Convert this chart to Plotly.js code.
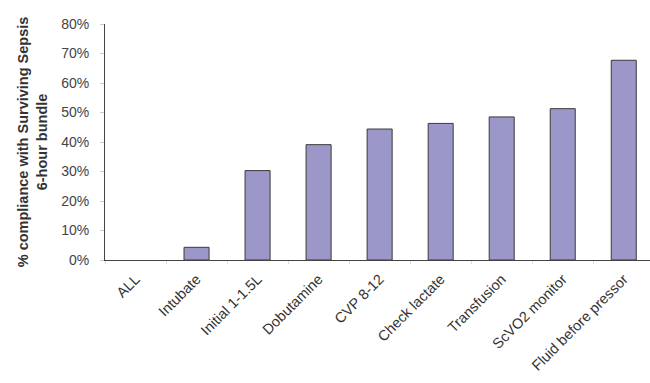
<!DOCTYPE html>
<html>
<head>
<meta charset="utf-8">
<script src="https://cdn.plot.ly/plotly-3.0.1.min.js"></script>
<style>html,body{margin:0;padding:0;background:#fff;}#chart{width:650px;height:383px;}</style>
</head>
<body>
<div id="chart"></div>
<script>
const categories = ["ALL", "Intubate", "Initial 1-1.5L", "Dobutamine", "CVP 8-12", "Check lactate", "Transfusion", "ScVO2 monitor", "Fluid before pressor"];
const compliance = [0, 0.043, 0.303, 0.391, 0.444, 0.463, 0.485, 0.513, 0.677];
const yTickVals = [0, 0.1, 0.2, 0.3, 0.4, 0.5, 0.6, 0.7, 0.8];
const yTickText = ["0%", "10%", "20%", "30%", "40%", "50%", "60%", "70%", "80%"];

const trace = {
  type: "bar",
  x: categories,
  y: compliance,
  marker: {
    color: "rgb(155,151,200)",
    line: {color: "#3a3a3a", width: compliance.map(v => v > 0 ? 1 : 0)}
  },
  hoverinfo: "x+y"
};

const layout = {
  width: 650, height: 383,
  margin: {l: 105, r: 0, t: 24, b: 123},
  paper_bgcolor: "#fff", plot_bgcolor: "#fff",
  showlegend: false,
  bargap: 0.59,
  font: {family: "Liberation Sans, Arial, sans-serif", size: 14, color: "#333"},
  xaxis: {
    type: "category",
    range: [-0.5, 8.43],
    tickangle: -45,
    showline: true, linecolor: "#444", linewidth: 1,
    ticks: "outside", tickson: "boundaries", ticklen: 3, tickcolor: "#ddd",
    ticklabelstandoff: 4,
    showgrid: false, zeroline: false,
    tickfont: {size: 14.5, color: "#333"},
    automargin: false
  },
  yaxis: {
    range: [0, 0.8],
    tickvals: yTickVals, ticktext: yTickText,
    showline: true, linecolor: "#444", linewidth: 1,
    ticks: "outside", ticklen: 4, tickcolor: "#ccc",
    showgrid: false, zeroline: false,
    tickfont: {size: 14, color: "#444"},
    ticklabelstandoff: 8,
    automargin: false,
    title: {text: "<b>% compliance with Surviving Sepsis<br>6-hour bundle</b>", font: {size: 14.5, color: "#333"}, standoff: 10}
  }
};

Plotly.newPlot("chart", [trace], layout, {displayModeBar: false, staticPlot: true});
</script>
</body>
</html>
